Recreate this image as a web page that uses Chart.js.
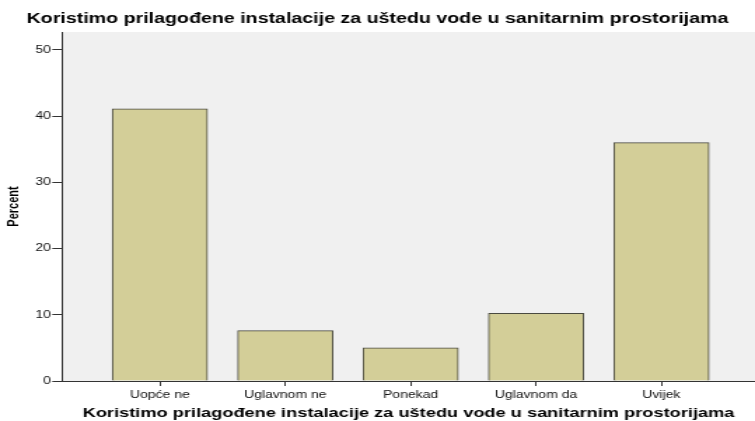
<!DOCTYPE html>
<html>
<head>
<meta charset="utf-8">
<script src="https://cdn.jsdelivr.net/npm/chart.js@4"></script>
<style>
  html, body { margin: 0; padding: 0; background: #fff; overflow: hidden; }
</style>
</head>
<body>
<!-- the reference is stretched sideways, so the canvas is drawn narrow and scaled up -->
<canvas id="chart" width="539" height="421" style="display:block;width:755px;height:421px"></canvas>
<script>
// Data
const categories = ['Uopće ne', 'Uglavnom ne', 'Ponekad', 'Uglavnom da', 'Uvijek'];
const percents = [41.1, 7.6, 5.0, 10.2, 36.0];
const yTicks = [0, 10, 20, 30, 40, 50];
const titleText = 'Koristimo prilagođene instalacije za uštedu vode u sanitarnim prostorijama';

const ink = '#333333';

// Plot background
const plotBackground = {
    id: 'plotBackground',
    beforeDraw(chart) {
        const a = chart.chartArea;
        const ctx = chart.ctx;
        ctx.save();
        ctx.fillStyle = '#f0f0f0';
        ctx.fillRect(a.left, a.top, a.right - a.left, a.bottom - a.top);
        ctx.restore();
    }
};

const ctx = document.getElementById('chart').getContext('2d');
new Chart(ctx, {
    type: 'bar',
    data: {
        datasets: [{
            data: categories.map((c, i) => ({ x: i, y: percents[i] })),
            backgroundColor: '#d3ce98',
            borderColor: '#4a4a40',
            borderWidth: 1,
            barThickness: 68
        }]
    },
    options: {
        responsive: false,
        devicePixelRatio: 1,
        animation: false,
        layout: { padding: 0 },
        plugins: {
            legend: { display: false },
            tooltip: { enabled: false },
            title: {
                display: true,
                text: titleText,
                color: '#000',
                font: { family: 'Liberation Sans, Arial, sans-serif', size: 14, weight: 'bold' },
                padding: { top: 11, bottom: 4.2 }
            }
        },
        scales: {
            x: {
                type: 'linear',
                offset: false,
                min: -0.78,
                max: 4.746,
                afterFit(scale) { scale.height = 40; },
                border: { display: true, color: ink, width: 1 },
                grid: { offset: false, drawOnChartArea: false, drawTicks: true, tickLength: 5, tickColor: ink },
                ticks: {
                    stepSize: 1,
                    includeBounds: false,
                    autoSkip: false,
                    maxRotation: 0,
                    padding: 3,
                    color: '#111',
                    font: { family: 'Liberation Sans, Arial, sans-serif', size: 10 },
                    callback: v => categories[v]
                },
                title: {
                    display: true,
                    text: titleText,
                    color: '#000',
                    font: { family: 'Liberation Sans, Arial, sans-serif', size: 13, weight: 'bold' },
                    padding: { top: 0, bottom: 0 }
                }
            },
            y: {
                min: 0,
                max: 52.7,
                afterFit(scale) { scale.width = 44.3; },
                border: { display: true, color: ink, width: 1 },
                grid: { drawOnChartArea: false, drawTicks: true, tickLength: 7, tickColor: ink },
                ticks: {
                    stepSize: 10,
                    includeBounds: false,
                    padding: 1,
                    color: '#111',
                    font: { family: 'Liberation Sans, Arial, sans-serif', size: 10 },
                    callback: v => yTicks.includes(v) ? v : ''
                },
                title: {
                    display: true,
                    text: 'Percent',
                    color: '#000',
                    font: { family: 'Liberation Sans, Arial, sans-serif', size: 11, weight: 'bold' },
                    padding: { top: 3, bottom: 0 }
                }
            }
        }
    },
    plugins: [plotBackground]
});
</script>
</body>
</html>
